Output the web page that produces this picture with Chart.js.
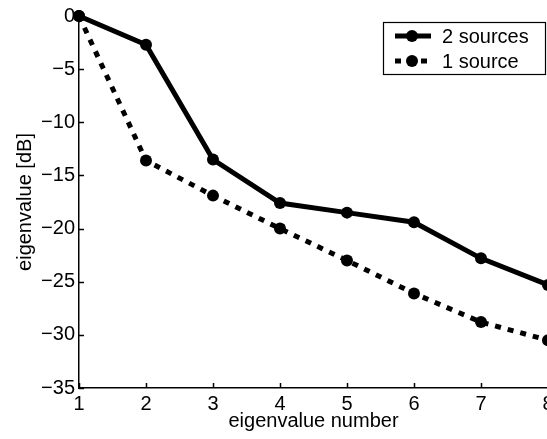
<!DOCTYPE html>
<html><head><meta charset="utf-8">
<script src="https://cdn.jsdelivr.net/npm/chart.js@4"></script>
<style>html,body{margin:0;padding:0;background:#fff;overflow:hidden;width:547px;height:439px}#w{width:562px;height:439px;position:relative}</style>
</head><body><div id="w"><canvas id="c"></canvas></div>
<script>
const eigenNumbers = [1, 2, 3, 4, 5, 6, 7, 8];
const twoSources = [0, -2.7, -13.5, -17.6, -18.5, -19.4, -22.8, -25.3];
const oneSource = [0, -13.6, -16.9, -20.0, -23.0, -26.1, -28.8, -30.5];
const yTicks = [0, -5, -10, -15, -20, -25, -30, -35];
const seriesNames = ['2 sources', '1 source'];

const FONT = 'Liberation Sans, Arial, Helvetica, sans-serif';
const FS = 20;

const inwardTicks = {
  id: 'inwardTicks',
  afterDraw(chart) {
    const ctx = chart.ctx, x = chart.scales.x, y = chart.scales.y, a = chart.chartArea;
    ctx.save();
    ctx.strokeStyle = '#000'; ctx.lineWidth = 1.5;
    eigenNumbers.forEach(v => {
      const px = Math.round(x.getPixelForValue(v)) + 0.5;
      ctx.beginPath(); ctx.moveTo(px, a.bottom); ctx.lineTo(px, a.bottom - 5); ctx.stroke();
    });
    yTicks.forEach(v => {
      const py = Math.round(y.getPixelForValue(v)) + 0.5;
      ctx.beginPath(); ctx.moveTo(a.left, py); ctx.lineTo(a.left + 5, py); ctx.stroke();
    });
    ctx.restore();
  }
};

const boxLegend = {
  id: 'boxLegend',
  afterDraw(chart) {
    const ctx = chart.ctx;
    const bx = 383, by = 22, bw = 162, bh = 52;
    ctx.save();
    ctx.fillStyle = '#fff'; ctx.fillRect(bx, by, bw, bh);
    ctx.strokeStyle = '#000'; ctx.lineWidth = 1.2; ctx.strokeRect(bx + 0.5, by + 0.5, bw, bh);
    chart.data.datasets.forEach((ds, i) => {
      const cy = by + 14 + i * 25;
      ctx.strokeStyle = '#000'; ctx.lineWidth = ds.borderWidth; ctx.lineCap = 'butt';
      ctx.setLineDash(ds.borderDash || []);
      ctx.beginPath(); ctx.moveTo(395, cy); ctx.lineTo(431, cy); ctx.stroke();
      ctx.setLineDash([]);
      ctx.fillStyle = '#000'; ctx.beginPath(); ctx.arc(412, cy, 6, 0, Math.PI * 2); ctx.fill();
      ctx.font = FS + 'px ' + FONT; ctx.textBaseline = 'middle'; ctx.textAlign = 'left';
      ctx.fillText(ds.label, 442, cy + 1);
    });
    ctx.restore();
  }
};

new Chart(document.getElementById('c'), {
  type: 'line',
  data: {
    datasets: [
      { label: seriesNames[0], data: eigenNumbers.map((x, i) => ({ x, y: twoSources[i] })),
        borderColor: '#000', backgroundColor: '#000', borderWidth: 5, pointRadius: 6, pointHoverRadius: 6,
        pointBorderWidth: 0, tension: 0, clip: false },
      { label: seriesNames[1], data: eigenNumbers.map((x, i) => ({ x, y: oneSource[i] })),
        borderColor: '#000', backgroundColor: '#000', borderWidth: 5, borderDash: [6, 7], borderCapStyle: 'butt',
        pointRadius: 6, pointHoverRadius: 6, pointBorderWidth: 0, tension: 0, clip: false }
    ]
  },
  options: {
    responsive: true, maintainAspectRatio: false, animation: false,
    layout: { padding: { left: 0, top: 16, right: 14, bottom: 0 } },
    plugins: { legend: { display: false }, tooltip: { enabled: false } },
    scales: {
      x: {
        type: 'linear', min: 1, max: 8,
        afterFit(s) { s.height = 51; },
        afterBuildTicks(s) { s.ticks = eigenNumbers.map(v => ({ value: v })); },
        grid: { display: false, drawTicks: false },
        border: { display: true, color: '#000', width: 1.5 },
        ticks: { color: '#000', font: { family: FONT, size: FS }, padding: 4, maxRotation: 0 },
        title: { display: true, text: 'eigenvalue number', color: '#000', font: { family: FONT, size: FS }, padding: { top: 0, bottom: 6 } }
      },
      y: {
        type: 'linear', min: -35, max: 0,
        afterFit(s) { s.width = 79; },
        afterBuildTicks(s) { s.ticks = yTicks.map(v => ({ value: v })); },
        grid: { display: false, drawTicks: false },
        border: { display: true, color: '#000', width: 1.5 },
        ticks: { color: '#000', font: { family: FONT, size: FS }, padding: 4,
          callback: v => (v < 0 ? '\u2212' + Math.abs(v) : String(v)) },
        title: { display: true, text: 'eigenvalue [dB]', color: '#000', font: { family: FONT, size: FS }, padding: { top: 13, bottom: 0 } }
      }
    }
  },
  plugins: [inwardTicks, boxLegend]
});
</script></body></html>
